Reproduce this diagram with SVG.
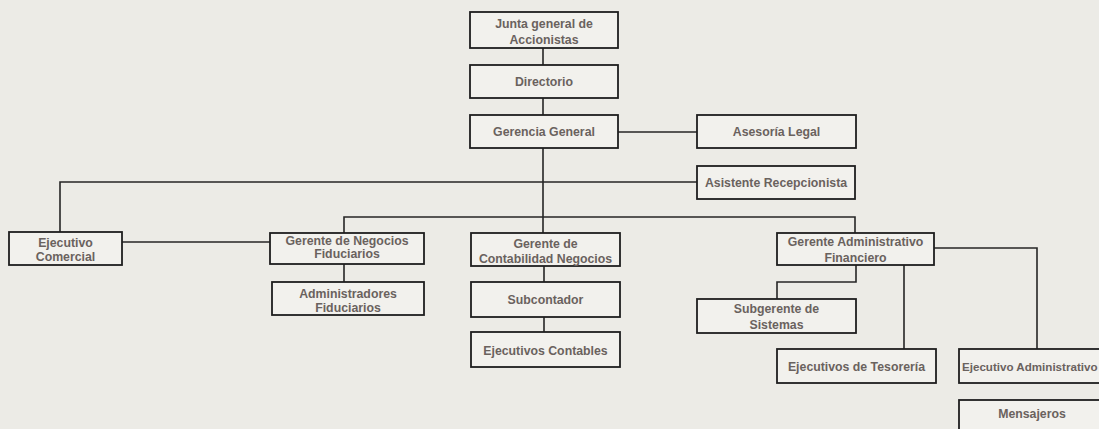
<svg xmlns="http://www.w3.org/2000/svg" width="1099" height="429" viewBox="0 0 1099 429">
<style>
.bg{fill:#ecebe6}
.box{fill:#f2f1ed;stroke:#1e1e1e;stroke-width:1.8}
.t{font-family:"Liberation Sans",Arial,sans-serif;font-size:12.3px;font-weight:bold;fill:#6a625e;text-anchor:middle}
.c{fill:none;stroke:#262626;stroke-width:1.6}
</style>
<rect class="bg" x="0" y="0" width="1099" height="429"/>
<g id="connectors">
<path class="c" d="M543 48V65M543 98V115M618 132H697M543 148V233M60 232V182H697M122 242H270M344 233V217H855V233M344 264V282M544 266V282M544 317V332M856 265V282H777V299M904 265V349M934 248H1037V349"/>
</g>
<g id="junta"><rect class="box" x="470" y="12" width="148" height="36"/><text class="t" x="544" y="27.5">Junta general de</text><text class="t" x="544" y="43.5">Accionistas</text></g>
<g id="directorio"><rect class="box" x="470" y="65" width="148" height="33"/><text class="t" x="544" y="86">Directorio</text></g>
<g id="gerencia-general"><rect class="box" x="470" y="115" width="148" height="33"/><text class="t" x="544" y="135.5">Gerencia General</text></g>
<g id="asesoria-legal"><rect class="box" x="697" y="115" width="159" height="33"/><text class="t" x="776.5" y="135.5">Asesoría Legal</text></g>
<g id="asistente"><rect class="box" x="697" y="166" width="158" height="33"/><text class="t" x="776" y="186.5">Asistente Recepcionista</text></g>
<g id="ejecutivo-comercial"><rect class="box" x="9" y="232" width="113" height="33"/><text class="t" x="65.5" y="247">Ejecutivo</text><text class="t" x="65.5" y="261">Comercial</text></g>
<g id="gerente-negocios"><rect class="box" x="270" y="233" width="154" height="31"/><text class="t" x="347" y="244.5">Gerente de Negocios</text><text class="t" x="347" y="257.5">Fiduciarios</text></g>
<g id="administradores"><rect class="box" x="272" y="282" width="152" height="33"/><text class="t" x="348" y="297.5">Administradores</text><text class="t" x="348" y="311.5">Fiduciarios</text></g>
<g id="gerente-contabilidad"><rect class="box" x="471" y="233" width="149" height="33"/><text class="t" x="545.5" y="247.5">Gerente de</text><text class="t" x="545.5" y="262.5">Contabilidad Negocios</text></g>
<g id="subcontador"><rect class="box" x="471" y="282" width="149" height="35"/><text class="t" x="545.5" y="303.5">Subcontador</text></g>
<g id="ejecutivos-contables"><rect class="box" x="471" y="332" width="149" height="35"/><text class="t" x="545.5" y="354.5">Ejecutivos Contables</text></g>
<g id="gerente-administrativo"><rect class="box" x="777" y="233" width="157" height="32"/><text class="t" x="855.5" y="245.5">Gerente Administrativo</text><text class="t" x="855.5" y="262">Financiero</text></g>
<g id="subgerente-sistemas"><rect class="box" x="697" y="299" width="159" height="34"/><text class="t" x="776.5" y="312.5">Subgerente de</text><text class="t" x="776.5" y="329">Sistemas</text></g>
<g id="ejecutivos-tesoreria"><rect class="box" x="777" y="349" width="159" height="34"/><text class="t" x="856.5" y="371">Ejecutivos de Tesorería</text></g>
<g id="ejecutivo-administrativo"><rect class="box" x="959" y="349" width="160" height="34"/><text class="t" x="962" y="371" style="text-anchor:start;font-size:11.6px">Ejecutivo Administrativo</text></g>
<g id="mensajeros"><rect class="box" x="959" y="400" width="160" height="40"/><text class="t" x="1032" y="417.5">Mensajeros</text></g>
</svg>
